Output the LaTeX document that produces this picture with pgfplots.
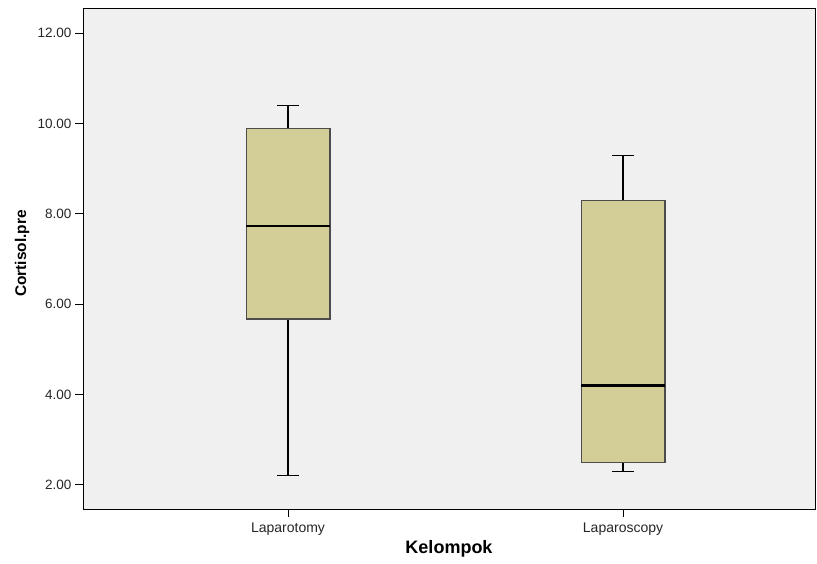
\documentclass[border=0pt]{standalone}
\usepackage{pgfplots}
\pgfplotsset{compat=1.18}
\usepgfplotslibrary{statistics}
\usepackage{fontspec}
\setmainfont{Liberation Sans}
\definecolor{boxfill}{HTML}{D3CE98}
\definecolor{bg}{HTML}{F0F0F0}
\begin{document}
\begin{tikzpicture}
\useasboundingbox (-83pt,-54pt) rectangle (734pt,509pt);
\begin{axis}[at={(0pt,0pt)}, anchor=south west, scale only axis,
  width=732pt, height=501pt,
  xmin=0.388, xmax=2.573, ymin=1.467, ymax=12.556,
  axis background/.style={fill=bg},
  axis line style={black, line width=0.9pt},
  xtick={1,2}, xticklabels={Laparotomy,Laparoscopy},
  ytick={2,4,6,8,10,12},
  yticklabel style={font=\fontsize{13.5}{14}\selectfont, text=black!85,
    /pgf/number format/.cd, fixed, fixed zerofill, precision=2},
  /pgf/number format/assume math mode=true,
  tick align=outside, tick pos=left, major tick length=8pt,
  tick style={black, line width=0.9pt},
  xticklabel style={font=\fontsize{14}{15}\selectfont, text=black!85, yshift=-2.5pt},
  xlabel={Kelompok}, ylabel={Cortisol.pre},
  xlabel style={font=\fontsize{18}{19}\selectfont\bfseries, at={([yshift=-40pt]rel axis cs:0.5,0)}, anchor=center},
  ylabel style={font=\fontsize{15.5}{16}\selectfont\bfseries, at={([xshift=-61pt,yshift=5pt]rel axis cs:0,0.5)}, anchor=center},
  boxplot/draw direction=y,
  boxplot/box extend=0.25,
  boxplot/whisker extend=0.063,
  boxplot/every median/.style={line width=2.4pt, black},
  boxplot/every whisker/.style={line width=1.2pt, black},
  boxplot/every box/.style={draw=black!70, line width=1.3pt, fill=boxfill},
]
\addplot[boxplot prepared={median=7.73, upper quartile=9.89, lower quartile=5.67,
  upper whisker=10.40, lower whisker=2.20, draw position=1},
  draw=black, fill=boxfill, mark=none] coordinates {};
\addplot[boxplot prepared={median=4.20, upper quartile=8.29, lower quartile=2.49,
  upper whisker=9.29, lower whisker=2.29, draw position=2},
  draw=black, fill=boxfill, mark=none] coordinates {};
\end{axis}
\end{tikzpicture}
\end{document}
